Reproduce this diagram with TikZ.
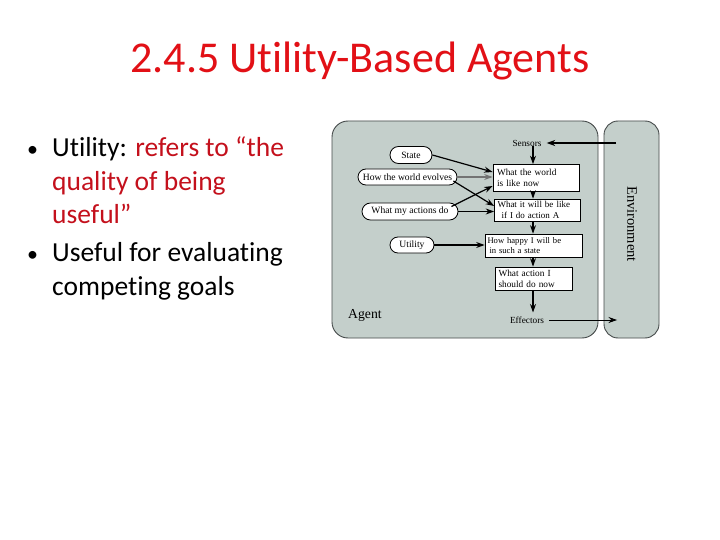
\documentclass[tikz,border=0pt]{standalone}
\usepackage{fontspec}
\setmainfont{Carlito}[Ligatures=NoCommon]
\newfontfamily\figfont{Liberation Serif}
\usetikzlibrary{shapes.misc,arrows.meta,calc}
\definecolor{titlered}{RGB}{226,16,22}
\definecolor{textred}{RGB}{196,16,28}
\definecolor{panel}{RGB}{196,207,203}
\definecolor{edgegray}{RGB}{70,75,75}
\tikzset{
  panelbox/.style={draw=edgegray,line width=0.9pt,fill=panel,rounded corners=16pt},
  oval/.style={rounded rectangle,draw=black,line width=0.8pt,fill=white,inner sep=0pt,font=\figfont\fontsize{9.6}{11}\selectfont},
  sbox/.style={draw=black,line width=0.7pt,fill=white,inner sep=0pt,align=left,font=\figfont\fontsize{9.3}{11}\selectfont},
  plain/.style={inner sep=0pt,font=\figfont\fontsize{9.3}{11}\selectfont},
  arr/.style={-{Stealth[length=8.5pt,width=6pt]},line width=1.2pt,black},
  thinarr/.style={-{Stealth[length=8.5pt,width=6pt]},line width=0.7pt,black},
  garr/.style={-{Stealth[length=8.5pt,width=6pt]},line width=1.2pt,black!55},
  bul/.style={anchor=base west,inner sep=0pt,font=\fontsize{27.5}{32}\selectfont},
}
\begin{document}
\begin{tikzpicture}[x=1pt,y=-1pt]
\useasboundingbox (0,0) rectangle (720,540);
\fill[white] (0,0) rectangle (720,540);
% title
\node[anchor=base,inner sep=0pt,text=titlered,font=\fontsize{44}{50}\selectfont] (title) at (360,73) {2.4.5 Utility-Based Agents};
% bullets
\node[bul,font=\fontsize{22}{26}\selectfont] (b1) at (27,157) {•};
\node[bul] (l1) at (52,157) {Utility: \textcolor{textred}{refers to “the}};
\node[bul,text=textred] (l2) at (52,191) {quality of being};
\node[bul,text=textred] (l3) at (52,224) {useful”};
\node[bul,font=\fontsize{22}{26}\selectfont] (b2) at (27,261) {•};
\node[bul] (l4) at (52,261) {Useful for evaluating};
\node[bul] (l5) at (52,295) {competing goals};
% panels
\draw[panelbox] (332,121) rectangle (598,338);
\draw[panelbox,rounded corners=14pt] (604,121) rectangle (659,338);
\node[inner sep=0pt,rotate=-90,font=\figfont\fontsize{14.5}{16}\selectfont] (env) at (632,224) {Environment};
\node[inner sep=0pt,anchor=west,font=\figfont\fontsize{13.7}{15}\selectfont] (agent) at (348,315) {Agent};
% column
\coordinate (col) at (533,0);
\coordinate (envin) at (616,143);
\coordinate (envout) at (617,320);
% right column
\node[plain] (sensors) at (527,143) {Sensors};
\node[sbox,minimum width=86pt,minimum height=27pt,text width=78pt] (world) at (536,178) {What the world\\is like now};
\node[sbox,minimum width=86pt,minimum height=22pt,text width=80pt,font=\figfont\fontsize{9}{10.5}\selectfont] (willbe) at (537.5,210) {What it will be like\\\hspace*{4pt}if I do action A};
\node[sbox,minimum width=97pt,minimum height=23pt,text width=92pt,font=\figfont\fontsize{8.6}{10.5}\selectfont] (happy) at (533.5,245.5) {How happy I will be\\\hspace*{2pt}in such a state};
\node[sbox,minimum width=77pt,minimum height=23pt,text width=70pt] (action) at (533.5,278.5) {What action I\\should do now};
\node[plain] (effectors) at (527,320) {Effectors};
% ovals
\node[oval,minimum width=42pt,minimum height=17pt] (state) at (411,155) {State};
\node[oval,minimum width=99pt,minimum height=16pt] (evolves) at (407.5,177) {How the world evolves};
\node[oval,minimum width=96pt,minimum height=17pt] (actions) at (410,211.5) {What my actions do};
\node[oval,minimum width=44pt,minimum height=16pt] (utility) at (412,245) {Utility};
% arrows
\draw[arr] (envin) -- ([xshift=5pt]sensors.east);
\draw[thinarr] ([xshift=5pt]effectors.east) -- (envout);
\draw[arr] (sensors.south -| col) -- (world.north -| col);
\draw[arr] (world.south -| col) -- (willbe.north -| col);
\draw[arr] (willbe.south -| col) -- (happy.north -| col);
\draw[arr] (happy.south -| col) -- (action.north -| col);
\draw[arr] (action.south -| col) -- ([yshift=4pt]effectors.north -| col);
\draw[arr] (state.east) -- ([yshift=6pt]world.west);
\draw[garr] (evolves.east) -- (evolves.east -| world.west);
\draw[arr] ([xshift=-4pt,yshift=-4pt]evolves.east) -- ([yshift=4pt]willbe.west);
\draw[arr] ([xshift=-7pt,yshift=5pt]actions.east) -- ([yshift=-8pt]world.west);
\draw[arr] (actions.east) -- (actions.east -| willbe.west);
\draw[arr] (utility.east) -- (utility.east -| happy.west);
\end{tikzpicture}
\end{document}
